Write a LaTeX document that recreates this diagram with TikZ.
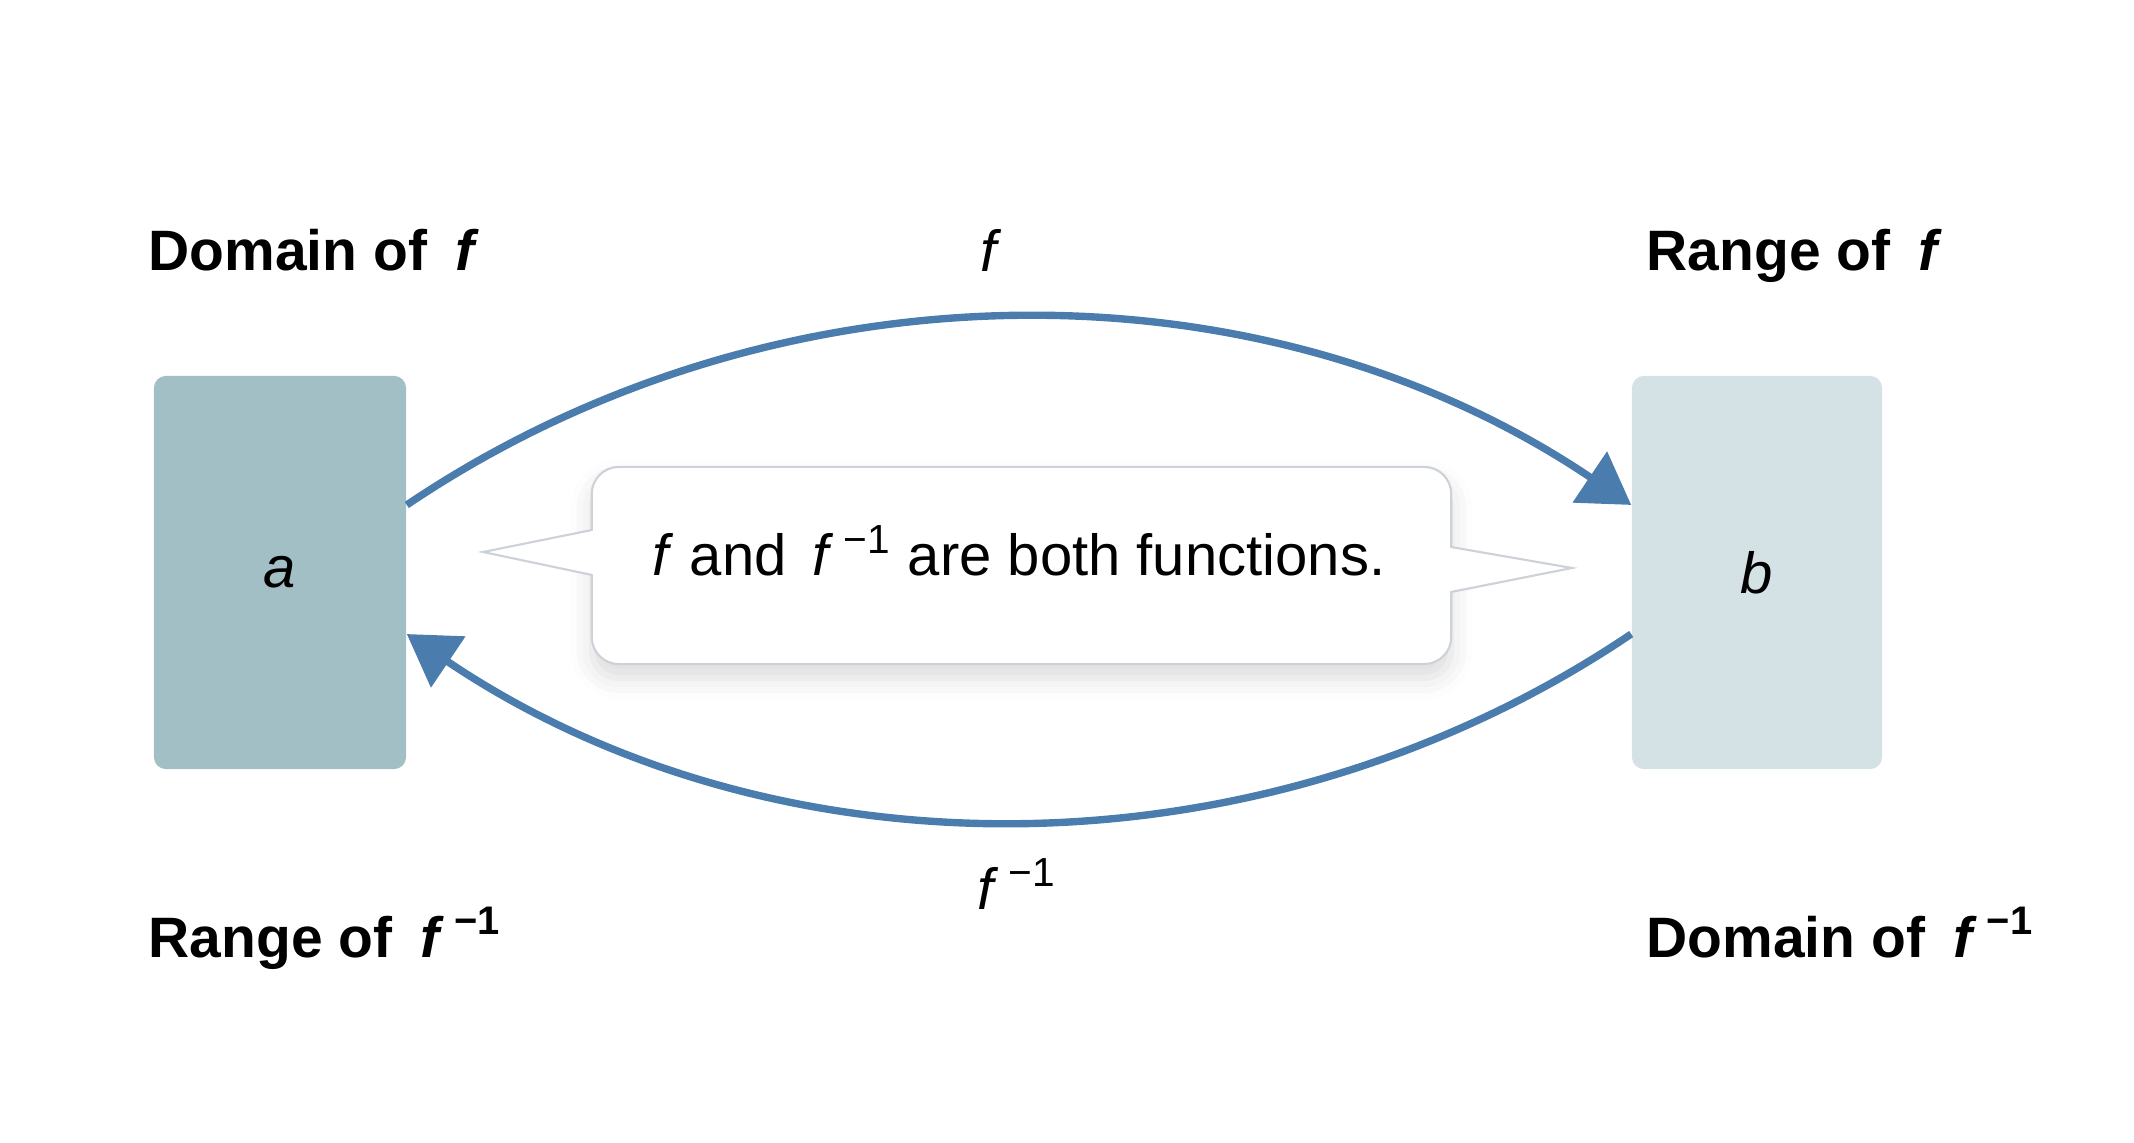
\documentclass[tikz,border=0pt]{standalone}
\usepackage{fontspec}
\setmainfont{Liberation Sans}
\usetikzlibrary{arrows.meta,shadows.blur}
\definecolor{arrowblue}{HTML}{4A7DAD}
\definecolor{boxA}{HTML}{A1BFC4}
\definecolor{boxB}{HTML}{D4E2E5}
\definecolor{calloutline}{HTML}{CCD2D8}
\begin{document}
\begin{tikzpicture}[x=0.01cm,y=0.01cm,
  font=\fontsize{16.5}{20}\selectfont,
  box/.style={rounded corners=0.12cm, minimum width=2.52cm, minimum height=3.93cm, inner sep=0pt},
  lbl/.style={font=\fontsize{16.2}{20}\selectfont\bfseries, anchor=base west, inner sep=0pt},
  plain/.style={inner sep=0pt},
  maparrow/.style={draw=arrowblue, line width=2.1pt, -{Triangle[length=0.5cm,width=0.6cm]}}]
\useasboundingbox (0,0) rectangle (2134,1142);

% boxes
\node[box, fill=boxA] (la) at (280,569.5) {\textit{a}};
\node[box, fill=boxB, minimum width=2.5cm] (rb) at (1757,569.5) {\textit{b}};

% connectors
\coordinate (ta) at ([yshift=0.675cm]la.east);
\coordinate (tb) at ([yshift=0.675cm]rb.west);
\coordinate (ba) at ([yshift=-0.615cm]la.east);
\coordinate (bb) at ([yshift=-0.615cm]rb.west);
\draw[maparrow] (ta) to[bend left=34, looseness=0.93] (tb);
\draw[maparrow] (bb) to[bend left=34, looseness=0.93] (ba);

% callout
\node[draw=calloutline, line width=0.6pt, fill=white, rounded corners=0.27cm,
      minimum width=8.59cm, minimum height=1.97cm, inner sep=0pt,
      blur shadow={shadow xshift=0pt, shadow yshift=-4pt, shadow blur radius=6pt, shadow opacity=14}]
      (co) at (1021.5,576.5) {};
\fill[white] (597,567) -- (483,590) -- (597,612) -- cycle;
\draw[calloutline, line width=0.6pt] (592,567) -- (483,590) -- (592,612);
\fill[white] (1446,550) -- (1572,574) -- (1446,595) -- cycle;
\draw[calloutline, line width=0.6pt] (1451,550) -- (1572,574) -- (1451,595);
\node[plain, anchor=base] (ct) at (1019,566)
  {\textit{f} and\hspace{0.45em}\textit{f}\,\textsuperscript{−1} are both functions.};

% labels
\node[lbl] (l1) at (148,871) {Domain of\hspace{0.5em}\textit{f}};
\node[lbl] (l2) at (1646,871) {Range of\hspace{0.5em}\textit{f}};
\node[lbl] (l3) at (148,185) {Range of\hspace{0.5em}\textit{f}\,\textsuperscript{−1}};
\node[lbl] (l4) at (1646,185) {Domain of\hspace{0.5em}\textit{f}\,\textsuperscript{−1}};
\node[plain, anchor=base] (fl) at (991,870) {\textit{f}};
\node[plain, anchor=base west] (fil) at (977,233) {\textit{f}\,\textsuperscript{−1}};
\end{tikzpicture}
\end{document}
